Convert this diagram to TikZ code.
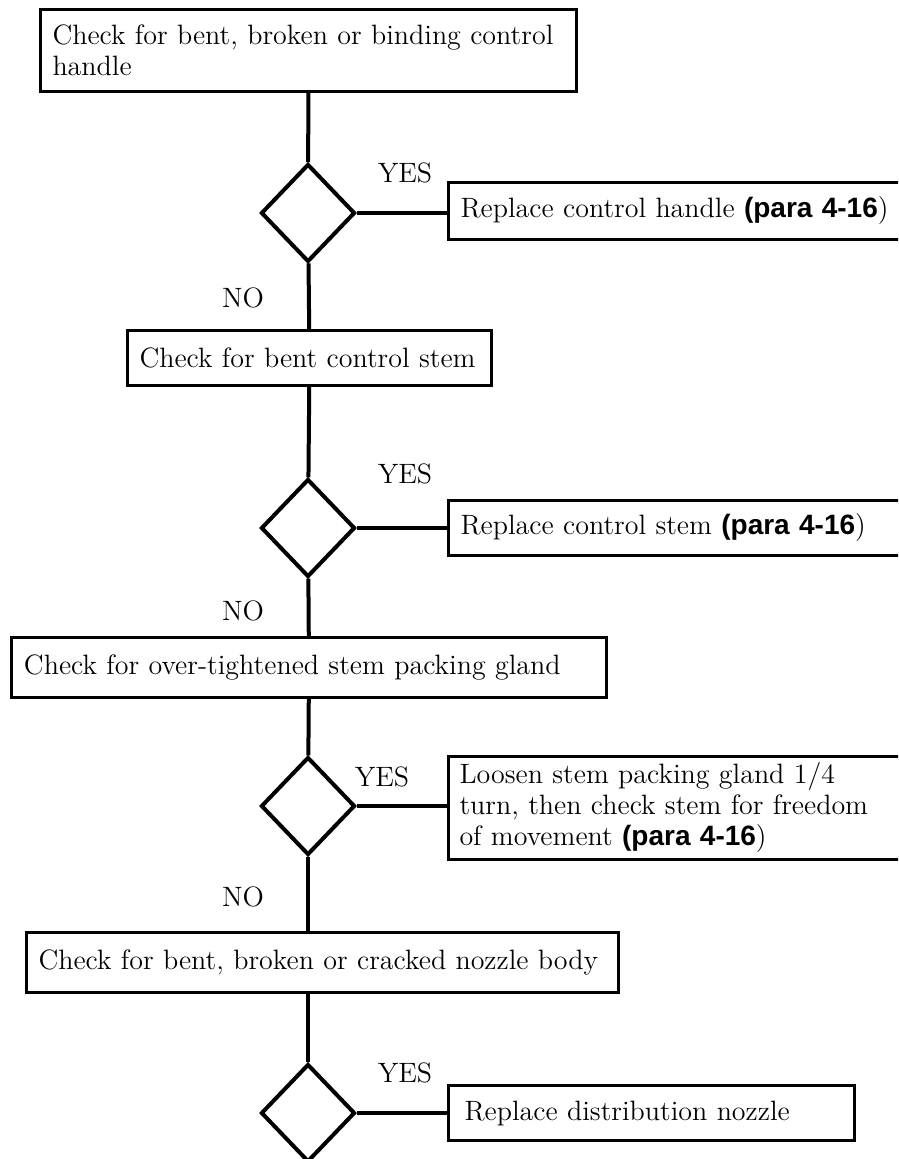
\documentclass[tikz,border=0pt]{standalone}
\usepackage{fontspec}
\newfontfamily\parafont{Liberation Sans}
\usetikzlibrary{shapes.geometric, positioning}
\tikzset{
    checkbox/.style={rectangle, draw, line width=1.5pt, anchor=north west, inner xsep=6pt, inner ysep=0pt, align=left, font=\fontsize{14}{15.5}\selectfont},
    fixbox/.style={checkbox},
    decision/.style={diamond, draw, line width=2pt, minimum width=47pt, minimum height=49pt, inner sep=0pt},
    answer/.style={font=\fontsize{14}{15.5}\selectfont, inner sep=0pt},
    link/.style={line width=2pt}
}
\newcommand{\pararef}{{\parafont\bfseries (para 4-16})}

\begin{document}
\begin{tikzpicture}[x=0.5pt, y=-0.5pt]
    \path[use as bounding box, clip] (0,0) rectangle (898,1159);

    % Checks
    \node [checkbox, minimum width=268pt, minimum height=41pt, text width=256pt] (check1) at (39,8) {Check for bent, broken or binding control\\handle};
    \node [checkbox, minimum width=182pt, minimum height=27.5pt, text width=170pt] (check2) at (126,329) {Check for bent control stem};
    \node [checkbox, minimum width=297.5pt, minimum height=30pt, text width=285pt] (check3) at (10,636) {Check for over-tightened stem packing gland};
    \node [checkbox, minimum width=296pt, minimum height=30pt, text width=284pt] (check4) at (25,931) {Check for bent, broken or cracked nozzle body};

    % Decisions
    \node [decision] (dec1) at (308,213) {};
    \node [decision] (dec2) at (308,528) {};
    \node [decision] (dec3) at (308,806) {};
    \node [decision] (dec4) at (308,1113) {};

    % Repairs
    \node [fixbox, minimum width=232pt, minimum height=28.5pt, text width=220pt] (fix1) at (447,181) {Replace control handle \pararef};
    \node [fixbox, minimum width=232pt, minimum height=27.5pt, text width=220pt] (fix2) at (447,499) {Replace control stem \pararef};
    \node [fixbox, minimum width=232pt, minimum height=51.5pt, text width=221pt, inner xsep=5pt, inner ysep=2pt] (fix3) at (447,755) {Loosen stem packing gland 1/4\\turn, then check stem for freedom\\of movement \pararef};
    \node [fixbox, minimum width=201pt, minimum height=27.5pt, text width=187pt, inner xsep=8pt] (fix4) at (447,1084) {Replace distribution nozzle};

    % Answers
    \node [answer] (yes1) at (405,173) {YES};
    \node [answer] (yes2) at (405,474) {YES};
    \node [answer] (yes3) at (382,777) {YES};
    \node [answer] (yes4) at (405,1073) {YES};
    \node [answer] (no1) at (243,298) {NO};
    \node [answer] (no2) at (243,611) {NO};
    \node [answer] (no3) at (243,897) {NO};

    % Links
    \draw [link] (check1) -- (dec1);
    \draw [link] (dec1) -- (check2);
    \draw [link] (check2) -- (dec2);
    \draw [link] (dec2) -- (check3);
    \draw [link] (check3) -- (dec3);
    \draw [link] (dec3) -- (dec3 |- check4.north);
    \draw [link] (dec3 |- check4.south) -- (dec4);
    \draw [link] (dec1.east) -- (dec1.east -| fix1.west);
    \draw [link] (dec2.east) -- (dec2.east -| fix2.west);
    \draw [link] (dec3.east) -- (dec3.east -| fix3.west);
    \draw [link] (dec4.east) -- (dec4.east -| fix4.west);
\end{tikzpicture}
\end{document}
